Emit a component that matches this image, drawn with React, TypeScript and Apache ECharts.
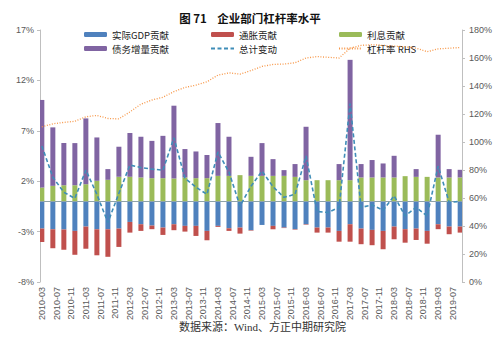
import React, { useEffect, useRef } from "react";
import * as echarts from "echarts";

const quarters = [
  "2010-03", "2010-06", "2010-09", "2010-12",
  "2011-03", "2011-06", "2011-09", "2011-12",
  "2012-03", "2012-06", "2012-09", "2012-12",
  "2013-03", "2013-06", "2013-09", "2013-12",
  "2014-03", "2014-06", "2014-09", "2014-12",
  "2015-03", "2015-06", "2015-09", "2015-12",
  "2016-03", "2016-06", "2016-09", "2016-12",
  "2017-03", "2017-06", "2017-09", "2017-12",
  "2018-03", "2018-06", "2018-09", "2018-12",
  "2019-03", "2019-06", "2019-09",
];

const gdpContribution = [
  -2.7, -2.77, -2.8, -2.93, -2.5, -2.77, -2.77, -2.7, -2.04, -2.27,
  -2.4, -2.6, -2.27, -2.43, -2.43, -2.93, -2.43, -2.67, -2.6, -2.86,
  -2.34, -2.43, -2.6, -2.76, -2.27, -2.6, -2.6, -2.93, -2.27, -2.7,
  -2.83, -2.93, -2.5, -2.76, -2.7, -2.93, -2.27, -2.5, -2.5,
];
const inflationContribution = [
  -1.33, -1.88, -2.0, -2.37, -2.2, -2.58, -2.73, -1.82, -1.06, -0.66,
  -0.36, -0.73, -0.59, -0.57, -1.0, -0.93, -0.1, -0.26, -0.6, -0.05,
  0, -0.34, -0.05, -0.05, -0.05, -0.5, -0.5, -1.07, -1.73, -1.55,
  -1.52, -1.82, -1.26, -1.34, -1.13, -1.27, -0.49, -0.76, -0.6,
];
const interestContribution = [
  1.37, 1.54, 1.6, 1.6, 1.7, 2.04, 2.14, 2.44, 2.44, 2.37,
  2.3, 2.3, 2.27, 2.37, 2.3, 2.3, 2.53, 2.53, 2.6, 2.53,
  2.53, 2.53, 2.53, 2.43, 2.1, 2.1, 2.1, 2.1, 2.1, 2.37,
  2.37, 2.37, 2.37, 2.5, 2.43, 2.43, 2.37, 2.37, 2.37,
];
const debtContribution = [
  8.69, 5.8, 4.18, 4.18, 6.53, 4.3, 1.06, 2.98, 4.34, 4.04,
  3.7, 4.2, 7.22, 2.82, 2.65, 2.3, 5.24, 3.88, 0, 1.89,
  3.25, 1.66, 0.57, 1.27, 5.3, 0, 0, 1.6, 11.94, 1.33,
  1.73, 1.39, 2.15, 0, 0.77, 0, 4.24, 0.83, 0.76,
];
const totalChange = [
  5.5, 2.4, 0.9, 0.3, 3.1, 0.7, -2.1, 0.8, 3.6, 3.35,
  3.2, 3.1, 6.3, 2.3, 1.4, 0.7, 4.9, 2.9, -0.45, 1.5,
  3.0, 1.45, 0.4, 0.7, 4.5, -1.0, -1.1, -0.6, 9.7, -0.6,
  -0.35, -0.88, 0.55, -1.44, -0.6, -1.44, 3.5, -0.1, 0.0,
];
const leverageRatio = [
  110.8, 113, 114, 114.8, 118, 119, 116.8, 116.5, 121.5, 127,
  130, 132, 136, 139, 140.6, 143, 147.8, 149.4, 148.5, 151,
  154, 155.4, 155.7, 156.6, 160, 161, 160.5, 160, 167, 169,
  169.5, 169, 168.5, 168, 167, 164.5, 166.5, 167, 167.5,
];

// monthly category axis spanning the quarterly data (labels every 4 months)
function buildMonths(start: string, end: string): string[] {
  const [sy, sm] = start.split("-").map(Number);
  const [ey, em] = end.split("-").map(Number);
  const out: string[] = [];
  let y = sy, m = sm;
  while (y < ey || (y === ey && m <= em)) {
    out.push(`${y}-${String(m).padStart(2, "0")}`);
    m++;
    if (m > 12) { m = 1; y++; }
  }
  return out;
}
const months = buildMonths(quarters[0], quarters[quarters.length - 1]);
const toMonthly = (arr: number[]) =>
  months.map((mo) => {
    const qi = quarters.indexOf(mo);
    return qi >= 0 ? arr[qi] : null;
  });

const axisColor = "#595959";
const labelFont = "'Liberation Sans', Arial, sans-serif";
const cjkFont = "'Noto Sans CJK SC', sans-serif";

export default function App() {
  const ref = useRef<HTMLDivElement>(null);
  useEffect(() => {
    if (!ref.current) return;
    const chart = echarts.init(ref.current, null, { renderer: "svg" });
    const legendText = { fontSize: 9.5, color: "#222", fontFamily: cjkFont, lineHeight: 11 };
    const legendBase = {
      orient: "vertical",
      top: 24,
      itemGap: 3,
      itemWidth: 23,
      itemHeight: 5,
      itemTextGap: 4,
      selectedMode: false,
      textStyle: legendText,
    };
    const lineItem = (name: string) => ({ name, itemStyle: { opacity: 0 } });
    const barWidth = 5;
    chart.setOption({
      animation: false,
      backgroundColor: "#ffffff",
      title: [
        {
          text: "图 71    企业部门杠杆率水平",
          left: "center",
          top: 7,
          textStyle: { fontSize: 11.5, fontWeight: "bold", color: "#111", fontFamily: cjkFont },
        },
        {
          text: "数据来源：Wind、方正中期研究院",
          left: 174,
          bottom: 2,
          textStyle: { fontSize: 11, fontWeight: "normal", color: "#333", fontFamily: "'Liberation Serif', 'Noto Sans CJK SC', serif" },
        },
      ],
      legend: [
        { ...legendBase, left: 79, data: ["实际GDP贡献", "债务增量贡献"] },
        { ...legendBase, left: 205, data: ["通胀贡献", lineItem("总计变动")] },
        { ...legendBase, left: 333, data: ["利息贡献", lineItem("杠杆率 RHS")] },
      ],
      grid: { left: 40, right: 38, top: 30, bottom: 57, containLabel: false },
      xAxis: {
        type: "category",
        data: months,
        boundaryGap: true,
        axisLine: { show: false },
        axisTick: { show: false },
        axisLabel: {
          interval: 3,
          rotate: 90,
          fontSize: 9,
          color: axisColor,
          fontFamily: labelFont,
          margin: 5,
        },
        splitLine: { show: false },
      },
      yAxis: [
        {
          type: "value",
          min: -8,
          max: 17,
          interval: 5,
          position: "left",
          axisLine: { show: true, lineStyle: { color: "#BFBFBF" } },
          axisTick: { show: true, length: 3, lineStyle: { color: "#BFBFBF" } },
          axisLabel: { formatter: "{value}%", fontSize: 9, color: axisColor, fontFamily: labelFont, margin: 6 },
          splitLine: { show: false },
        },
        {
          type: "value",
          min: 0,
          max: 180,
          interval: 20,
          position: "right",
          axisLine: { show: true, lineStyle: { color: "#BFBFBF" } },
          axisTick: { show: true, length: 3, lineStyle: { color: "#BFBFBF" } },
          axisLabel: { formatter: "{value}%", fontSize: 9, color: axisColor, fontFamily: labelFont, margin: 7 },
          splitLine: { show: false },
        },
      ],
      series: [
        {
          name: "实际GDP贡献",
          type: "bar",
          stack: "c",
          barWidth,
          data: toMonthly(gdpContribution),
          itemStyle: { color: "#4F81BD" },
          markLine: {
            silent: true,
            symbol: "none",
            label: { show: false },
            lineStyle: { color: "#8FA3A8", width: 1, type: "solid" },
            data: [{ yAxis: 0 }],
          },
        },
        {
          name: "通胀贡献",
          type: "bar",
          stack: "c",
          barWidth,
          data: toMonthly(inflationContribution),
          itemStyle: { color: "#C0504D" },
        },
        {
          name: "利息贡献",
          type: "bar",
          stack: "c",
          barWidth,
          data: toMonthly(interestContribution),
          itemStyle: { color: "#9BBB59" },
        },
        {
          name: "债务增量贡献",
          type: "bar",
          stack: "c",
          barWidth,
          data: toMonthly(debtContribution),
          itemStyle: { color: "#8064A2" },
        },
        {
          name: "总计变动",
          type: "line",
          yAxisIndex: 0,
          data: toMonthly(totalChange),
          connectNulls: true,
          showSymbol: false,
          symbol: "none",
          itemStyle: { color: "#3F8DB8" },
          lineStyle: { color: "#3F8DB8", width: 1.6, type: [4, 2.5] },
          z: 5,
        },
        {
          name: "杠杆率 RHS",
          type: "line",
          yAxisIndex: 1,
          data: toMonthly(leverageRatio),
          connectNulls: true,
          showSymbol: false,
          symbol: "none",
          itemStyle: { color: "#F79646" },
          lineStyle: { color: "#F79646", width: 1.3, type: [1, 1.6] },
          z: 5,
        },
      ],
    });
    return () => chart.dispose();
  }, []);
  return (
    <div
      ref={ref}
      style={{ position: "fixed", left: 0, top: 0, width: 500, height: 339, background: "#fff" }}
    />
  );
}
